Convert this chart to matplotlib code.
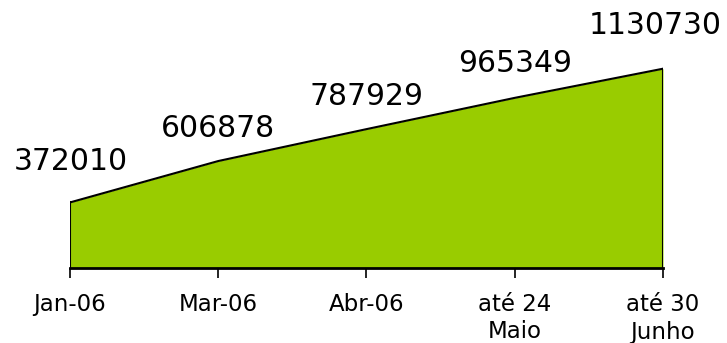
import matplotlib
matplotlib.use("Agg")
import matplotlib.pyplot as plt

categories = ["Jan-06", "Mar-06", "Abr-06", "até 24\nMaio", "até 30\nJunho"]
values = [372010, 606878, 787929, 965349, 1130730]

fig = plt.figure(figsize=(7.27, 3.43), dpi=100)
ax = fig.add_axes([70/727, 1-268/343, (663-70)/727, (268-56.5)/343])
x = list(range(len(values)))
ax.fill_between(x, 0, values, color="#99CC00", linewidth=0)
ax.plot(x, values, color="black", linewidth=1.5)
ax.plot([x[0], x[0]], [0, values[0]], color="black", linewidth=1.5)
ax.plot([x[-1], x[-1]], [0, values[-1]], color="black", linewidth=1.5)
ax.set_xlim(x[0], x[-1])
ax.set_ylim(0, 1200000)
for s in ["top", "right", "left"]:
    ax.spines[s].set_visible(False)
ax.spines["bottom"].set_linewidth(2)
ax.spines["bottom"].set_clip_on(False)
ax.set_yticks([])
ax.set_xticks(x)
ax.set_xticklabels(categories, fontsize=16.5, linespacing=1.25)
ax.tick_params(axis="x", direction="out", length=7, width=1.2, pad=11)
label_dy = [41, 33, 33, 34, 43]
label_dx = [1, 0, 0, 0, -8]
for i, v in enumerate(values):
    ax.annotate(str(v), (i, v), xytext=(label_dx[i], label_dy[i]), textcoords="offset pixels",
                ha="center", va="center", fontsize=21.5, annotation_clip=False)
fig.savefig("out.png", dpi=100)
